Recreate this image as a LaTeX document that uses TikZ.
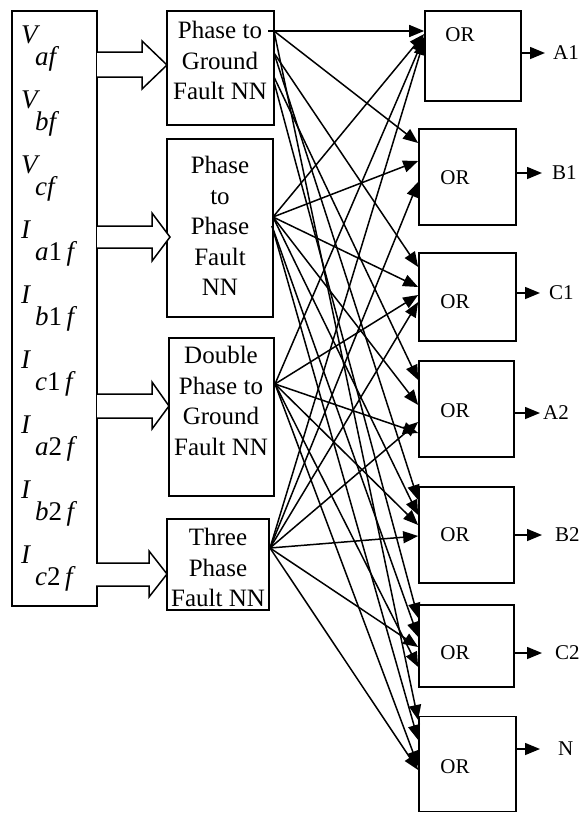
\documentclass[tikz,border=0pt]{standalone}
\usepackage{fontspec}
\setmainfont{Liberation Serif}
\usetikzlibrary{arrows.meta}
\begin{document}
\begin{tikzpicture}[x=1pt,y=-1pt,
  blk/.style={draw, line width=1.7pt, inner sep=0pt},
  nntext/.style={anchor=north, inner sep=0pt, align=center, font=\fontsize{25}{30.5}\selectfont},
  ortext/.style={inner sep=0pt, font=\fontsize{21}{21}\selectfont},
  outlab/.style={anchor=west, inner sep=0pt, font=\fontsize{21}{21}\selectfont},
  mainlet/.style={anchor=base west, inner sep=0pt, font=\fontsize{27}{27}\selectfont\itshape},
  sublet/.style={anchor=base west, inner sep=0pt, font=\fontsize{27}{27}\selectfont},
  conn/.style={line width=1.5pt, -{Triangle[length=15pt,width=12pt]}},
  fat/.style={draw, line width=1.5pt, fill=white}]
\useasboundingbox (0,0) rectangle (579,814);

% input box
\node[blk, minimum width=85pt, minimum height=595pt] (in) at (54.5,308.5) {};
\foreach \y/\m/\s [count=\i] in {
  43/V/\textit{af}, 108/V/\textit{bf}, 173/V/\textit{cf},
  238/I/\textit{a}1\,\textit{f}, 303/I/\textit{b}1\,\textit{f}, 368/I/\textit{c}1\,\textit{f},
  433/I/\textit{a}2\,\textit{f}, 498/I/\textit{b}2\,\textit{f}, 563/I/\textit{c}2\,\textit{f}} {
  \node[mainlet] (m\i) at (21,\y) {\m};
  \node[sublet] (s\i) at (35,\y+22) {\s};
}

% NN boxes
\node[blk, minimum width=107pt, minimum height=114pt] (ptg) at (220.5,68) {};
\node[blk, minimum width=106pt, minimum height=178pt] (ptp) at (220,228) {};
\node[blk, minimum width=105pt, minimum height=158pt] (dpg) at (221.5,417) {};
\node[blk, minimum width=102pt, minimum height=91pt] (tp) at (218,564.5) {};
\node[nntext] (ptgt) at (220,21) {Phase to\\Ground\\Fault NN};
\node[nntext] (ptpt) at (220,156) {Phase\\to\\Phase\\Fault\\NN};
\node[nntext] (dpgt) at (221,346) {Double\\Phase to\\Ground\\Fault NN};
\node[nntext] (tpt) at (218,528) {Three\\Phase\\Fault NN};

% fat arrows
\draw[fat] (97,52) -- (142,52) -- (142,41) -- (167,65) -- (142,89) -- (142,77) -- (97,77);
\draw[fat] (97,226) -- (152,226) -- (152,213) -- (170,237) -- (152,261) -- (152,248) -- (97,248);
\draw[fat] (97,394) -- (152,394) -- (152,382) -- (169,406) -- (152,429) -- (152,418) -- (97,418);
\draw[fat] (96,563) -- (149,563) -- (149,551) -- (167,574) -- (149,597) -- (149,586) -- (96,586);

% OR boxes
\node[blk, minimum width=96pt, minimum height=90pt] (A1) at (473,56) {};
\node[blk, minimum width=97pt, minimum height=96pt] (B1) at (467.5,177) {};
\node[blk, minimum width=97pt, minimum height=88pt] (C1) at (467.5,297) {};
\node[blk, minimum width=95pt, minimum height=96pt] (A2) at (466.5,409) {};
\node[blk, minimum width=95pt, minimum height=96pt] (B2) at (466.5,535) {};
\node[blk, minimum width=95pt, minimum height=82pt] (C2) at (466.5,646) {};
\node[blk, minimum width=97pt, minimum height=95pt] (N) at (467.5,764) {};
\foreach \b/\x/\y in {A1/460/35, B1/455/178, C1/455/302, A2/455/411, B2/455/535, C2/455/653, N/455/767}
  \node[ortext] (or\b) at (\x,\y) {OR};

% outputs
\foreach \b/\xe/\y/\xl in {A1/545/53/553, B1/542/173/552, C1/540/293/549, A2/540/413/543, B2/542/535/555, C2/542/653/555, N/540/749/558} {
  \coordinate (o\b) at (\xe,\y);
  \draw[conn] (\b.east |- o\b) -- (o\b);
  \node[outlab] (l\b) at (\xl,\y) {\b};
}

% source points
\coordinate (g0) at (274,31);
\coordinate (g1) at (274,53);
\coordinate (g2) at (274,77);
\coordinate (g3) at (274,82);
\coordinate (gh) at (268,31);
\coordinate (p0) at (273,217);
\coordinate (p1) at (272,226);
\coordinate (d0) at (275,384);
\coordinate (t0) at (270,548);

% connectors
\foreach \s/\b/\ty in {
  gh/A1/31, p0/A1/34, d0/A1/37, t0/A1/40,
  g0/B1/143, p0/B1/161, t0/B1/182,
  g1/C1/267, p0/C1/287, d0/C1/295, t0/C1/302,
  g2/A2/380, p0/A2/405, t0/A2/422, d0/A2/433,
  g1/B2/500, p0/B2/515, d0/B2/525, t0/B2/536,
  g3/C2/618, p1/C2/637, t0/C2/647, d0/C2/667,
  g0/N/720, p1/N/740, d0/N/766, t0/N/770}
  \draw[conn] (\s) -- (\b.west |- 0,\ty);
\end{tikzpicture}
\end{document}
